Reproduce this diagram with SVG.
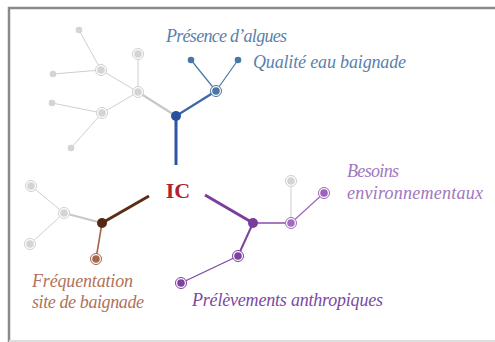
<svg xmlns="http://www.w3.org/2000/svg" width="495" height="342" viewBox="0 0 495 342">
<style>
.lbl{font-style:italic;font-size:18px}
.g{stroke:#cfcfcf;fill:none}
.gd{fill:#d4d4d4}
</style>
<defs>
<g id="gr"><circle r="5.5" fill="#fff" stroke="#cfcfcf" stroke-width="1"/><circle r="3.8" fill="#d4d4d4"/></g>
</defs>
<rect x="0" y="0" width="495" height="342" fill="#fff"/>
<path d="M9 342 V8 H495" fill="none" stroke="#8a8a8a" stroke-width="2.5"/>
<line x1="9" y1="341" x2="495" y2="341" stroke="#dcdcdc" stroke-width="2"/>
<g id="connectors">
<g class="g" stroke-width="1">
<line x1="79" y1="30" x2="101" y2="70"/>
<line x1="53" y1="74" x2="101" y2="70"/>
<line x1="101" y1="70" x2="138" y2="92"/>
<line x1="138" y1="54" x2="138" y2="92"/>
<line x1="52" y1="103" x2="102" y2="113"/>
<line x1="102" y1="113" x2="138" y2="92"/>
<line x1="71" y1="148" x2="102" y2="113"/>
<line x1="31" y1="186" x2="64" y2="213"/>
<line x1="30" y1="244" x2="64" y2="213"/>
<line x1="291" y1="181" x2="291" y2="223"/>
</g>
<line x1="138" y1="92" x2="176" y2="116" stroke="#c8c8c8" stroke-width="2.2"/>
<line x1="64" y1="213" x2="102" y2="223" stroke="#c8c8c8" stroke-width="2.2"/>
<line x1="176" y1="116" x2="176" y2="165" stroke="#2e55a3" stroke-width="3"/>
<line x1="176" y1="116" x2="216" y2="91" stroke="#3d68a8" stroke-width="2.2"/>
<line x1="216" y1="91" x2="191" y2="60" stroke="#4a76a6" stroke-width="1.2"/>
<line x1="216" y1="91" x2="238" y2="60" stroke="#4a76a6" stroke-width="1.2"/>
<line x1="149" y1="196" x2="102" y2="223" stroke="#5a2e14" stroke-width="3"/>
<line x1="102" y1="223" x2="96" y2="259" stroke="#a5664c" stroke-width="1.6"/>
<line x1="205" y1="195" x2="253" y2="223" stroke="#7a3e9c" stroke-width="3"/>
<line x1="253" y1="223" x2="291" y2="223" stroke="#a778c4" stroke-width="2.2"/>
<line x1="291" y1="223" x2="324" y2="193" stroke="#9c67bb" stroke-width="1.2"/>
<line x1="253" y1="223" x2="238" y2="256" stroke="#7d42a0" stroke-width="2"/>
<line x1="238" y1="256" x2="181" y2="283" stroke="#7d42a0" stroke-width="1.2"/>
</g>
<g id="gray-nodes">
<circle cx="79" cy="30" r="3.3" class="gd"/>
<circle cx="53" cy="74" r="3.3" class="gd"/>
<circle cx="52" cy="103" r="3.3" class="gd"/>
<circle cx="71" cy="148" r="3.3" class="gd"/>
<use href="#gr" x="101" y="70"/>
<use href="#gr" x="138" y="54"/>
<use href="#gr" x="138" y="92"/>
<use href="#gr" x="102" y="113"/>
<use href="#gr" x="31" y="186"/>
<use href="#gr" x="64" y="213"/>
<use href="#gr" x="30" y="244"/>
<use href="#gr" x="291" y="181"/>
</g>
<g id="n-ic"><text x="178" y="198" text-anchor="middle" font-family="Liberation Serif, serif" font-weight="bold" font-size="22" fill="#b5202e">IC</text></g>
<g id="n-blue-hub"><circle cx="176" cy="116" r="5" fill="#2b4f9f"/></g>
<g id="n-blue-mid"><circle cx="216" cy="91" r="5.5" fill="#fff" stroke="#4a76a6"/><circle cx="216" cy="91" r="3.8" fill="#4a76a6"/></g>
<g id="n-algues" font-family="Liberation Serif, serif"><circle cx="191" cy="60" r="3.3" fill="#4a76a6"/><text class="lbl" x="166" y="42" fill="#5a7fab" textLength="121">Présence d’algues</text></g>
<g id="n-qualite" font-family="Liberation Serif, serif"><circle cx="238" cy="60" r="3.3" fill="#4a76a6"/><text class="lbl" x="253" y="68" fill="#5a7fab" textLength="153">Qualité eau baignade</text></g>
<g id="n-brown-hub"><circle cx="102" cy="223" r="5" fill="#55290f"/></g>
<g id="n-frequentation" font-family="Liberation Serif, serif"><circle cx="96" cy="259" r="5.5" fill="#fff" stroke="#a5664c"/><circle cx="96" cy="259" r="3.8" fill="#a5664c"/>
<text class="lbl" x="32" y="287" fill="#b0725a" textLength="101">Fréquentation</text>
<text class="lbl" x="32" y="308" fill="#b0725a" textLength="112">site de baignade</text></g>
<g id="n-purple-hub"><circle cx="253" cy="223" r="5" fill="#7b3d9d"/></g>
<g id="n-purple-mid"><circle cx="291" cy="223" r="5.5" fill="#fff" stroke="#a06cc0"/><circle cx="291" cy="223" r="3.8" fill="#a06cc0"/></g>
<g id="n-besoins" font-family="Liberation Serif, serif"><circle cx="324" cy="193" r="5.5" fill="#fff" stroke="#9c63bb"/><circle cx="324" cy="193" r="3.8" fill="#9c63bb"/>
<text class="lbl" x="347" y="177" fill="#a077c0" textLength="52">Besoins</text>
<text class="lbl" x="347" y="199" fill="#a077c0" textLength="136">environnementaux</text></g>
<g id="n-prel-mid"><circle cx="238" cy="256" r="5.5" fill="#fff" stroke="#7d42a0"/><circle cx="238" cy="256" r="3.8" fill="#7d42a0"/></g>
<g id="n-prelevements" font-family="Liberation Serif, serif"><circle cx="181" cy="283" r="5.5" fill="#fff" stroke="#7d42a0"/><circle cx="181" cy="283" r="3.8" fill="#7d42a0"/>
<text class="lbl" x="192" y="306" fill="#7c48a3" textLength="191">Prélèvements anthropiques</text></g>
</svg>
